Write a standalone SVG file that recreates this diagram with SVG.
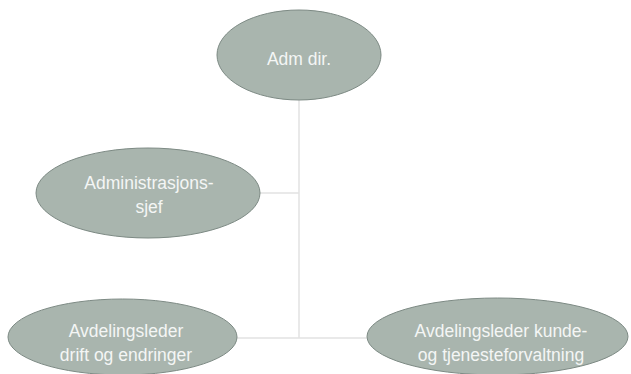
<svg xmlns="http://www.w3.org/2000/svg" width="631" height="374" viewBox="0 0 631 374">
<style>
.n{fill:#a9b5ae;stroke:#7d8a84;stroke-width:1}
.t{font-family:"Liberation Sans",Arial,sans-serif;font-size:17.5px;fill:#f4f6f5;text-anchor:middle}
.c{stroke:#e2e2e2;stroke-width:1.5;fill:none}
</style>
<rect width="631" height="374" fill="#ffffff"/>
<g id="connectors">
<path class="c" d="M299 100 V338"/>
<path class="c" d="M260 193 H299"/>
<path class="c" d="M237 338 H367"/>
</g>
<g id="adm-dir">
<ellipse class="n" cx="299" cy="55" rx="82" ry="45"/>
<text class="t" x="299" y="65">Adm dir.</text>
</g>
<g id="administrasjonssjef">
<ellipse class="n" cx="148" cy="193" rx="112" ry="45"/>
<text class="t" x="149" y="189">Administrasjons-</text>
<text class="t" x="149" y="213">sjef</text>
</g>
<g id="drift">
<ellipse class="n" cx="122.5" cy="337" rx="114.5" ry="38"/>
<text class="t" x="126" y="337">Avdelingsleder</text>
<text class="t" x="126" y="361">drift og endringer</text>
</g>
<g id="kunde">
<ellipse class="n" cx="497.5" cy="336.5" rx="130.5" ry="38.5"/>
<text class="t" x="501" y="337">Avdelingsleder kunde-</text>
<text class="t" x="501" y="361">og tjenesteforvaltning</text>
</g>
</svg>
